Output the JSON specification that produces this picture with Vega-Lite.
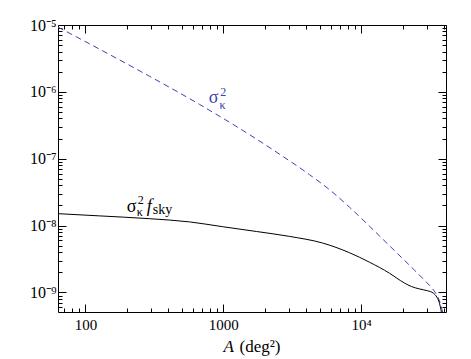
{
  "$schema": "https://vega.github.io/schema/vega-lite/v6.json",
  "width": 388,
  "height": 287,
  "autosize": "none",
  "padding": {"left": 58, "top": 25, "right": 25, "bottom": 47},
  "background": "white",
  "config": {
    "view": {"stroke": "black", "strokeWidth": 1},
    "font": "Liberation Serif",
    "axis": {"domain": false, "grid": false, "tickColor": "black", "tickWidth": 1, "labelColor": "black", "labelFont": "Liberation Serif", "titleFont": "Liberation Serif", "titleColor": "black", "titleFontWeight": "normal"}
  },
  "datasets": {
    "curves": [
      {"series": "noise", "A": 63.2, "v": 9.3e-6},
      {"series": "noise", "A": 126.3, "v": 4.357e-6},
      {"series": "noise", "A": 291.3, "v": 1.712e-6},
      {"series": "noise", "A": 671.2, "v": 6.501e-7},
      {"series": "noise", "A": 1547.5, "v": 2.295e-7},
      {"series": "noise", "A": 2554.5, "v": 1.172e-7},
      {"series": "noise", "A": 4216.5, "v": 5.78e-8},
      {"series": "noise", "A": 5889, "v": 3.446e-8},
      {"series": "noise", "A": 8226, "v": 1.886e-8},
      {"series": "noise", "A": 11490, "v": 9.795e-9},
      {"series": "noise", "A": 16043, "v": 5.001e-9},
      {"series": "noise", "A": 22410, "v": 2.553e-9},
      {"series": "noise", "A": 28790, "v": 1.523e-9},
      {"series": "noise", "A": 32910, "v": 1.136e-9},
      {"series": "noise", "A": 35460, "v": 9.08e-10},
      {"series": "noise", "A": 37290, "v": 7.133e-10},
      {"series": "noise", "A": 38560, "v": 5.605e-10},
      {"series": "noise", "A": 39540, "v": 4.479e-10},
      {"series": "fsky", "A": 63.17, "v": 1.508e-8},
      {"series": "fsky", "A": 126.3, "v": 1.397e-8},
      {"series": "fsky", "A": 291.3, "v": 1.268e-8},
      {"series": "fsky", "A": 568.3, "v": 1.136e-8},
      {"series": "fsky", "A": 985.9, "v": 9.628e-9},
      {"series": "fsky", "A": 1739.9, "v": 8.16e-9},
      {"series": "fsky", "A": 3019, "v": 6.893e-9},
      {"series": "fsky", "A": 5240, "v": 5.49e-9},
      {"series": "fsky", "A": 8226, "v": 3.929e-9},
      {"series": "fsky", "A": 11490, "v": 2.832e-9},
      {"series": "fsky", "A": 16043, "v": 1.939e-9},
      {"series": "fsky", "A": 17945, "v": 1.66e-9},
      {"series": "fsky", "A": 20610, "v": 1.383e-9},
      {"series": "fsky", "A": 23170, "v": 1.226e-9},
      {"series": "fsky", "A": 26480, "v": 1.128e-9},
      {"series": "fsky", "A": 30270, "v": 1.06e-9},
      {"series": "fsky", "A": 33460, "v": 9.728e-10},
      {"series": "fsky", "A": 35460, "v": 8.476e-10},
      {"series": "fsky", "A": 36990, "v": 6.893e-10},
      {"series": "fsky", "A": 37920, "v": 5.509e-10},
      {"series": "fsky", "A": 38560, "v": 4.479e-10}
    ],
    "labels": [
      {"label": "noise", "A": 784.6, "v": 6.795e-7},
      {"label": "fsky", "A": 199.4, "v": 1.614e-8}
    ]
  },
  "resolve": {"axis": {"x": "independent", "y": "independent"}},
  "layer": [
    {
      "data": {"name": "curves"},
      "transform": [{"filter": "datum.series === 'noise'"}],
      "mark": {"type": "line", "color": "#4040b0", "strokeWidth": 1, "strokeDash": [6, 4], "interpolate": "monotone", "clip": true},
      "encoding": {
        "x": {"field": "A", "type": "quantitative", "scale": {"type": "log", "domain": [63.2, 41253], "nice": false},
          "axis": {"orient": "bottom", "values": [100, 1000, 10000], "labelExpr": "datum.value > 5000 ? '10⁴' : format(datum.value, 'd')", "ticks": false, "labelFont": "Liberation Serif", "labelFontSize": 15, "labelPadding": 5, "labelFlush": false, "labelOverlap": false, "title": "A", "titleFontStyle": "italic", "titleFontSize": 17, "titleX": 165, "titleY": 39, "titleAlign": "left", "titleBaseline": "alphabetic"}},
        "y": {"field": "v", "type": "quantitative", "scale": {"type": "log", "domain": [5.1e-10, 1e-5], "nice": false},
          "axis": {"orient": "left", "values": [1e-9, 1e-8, 1e-7, 1e-6, 1e-5], "labelExpr": "'10⁻' + ['⁰','¹','²','³','⁴','⁵','⁶','⁷','⁸','⁹'][round(-log(datum.value)/LN10)]", "ticks": false, "labelFont": "Liberation Serif", "labelFontSize": 16, "labelPadding": 2, "labelFlush": false, "labelOverlap": false, "labelBound": false, "title": null}}
      }
    },
    {
      "data": {"name": "curves"},
      "transform": [{"filter": "datum.series === 'fsky'"}],
      "mark": {"type": "line", "color": "black", "strokeWidth": 1, "interpolate": "monotone", "clip": true},
      "encoding": {
        "x": {"field": "A", "type": "quantitative",
          "axis": {"orient": "bottom", "values": [100, 1000, 10000], "labels": false, "tickSize": -8, "title": "(deg²)", "titleFontSize": 17, "titleX": 181, "titleY": 39, "titleAlign": "left", "titleBaseline": "alphabetic"}},
        "y": {"field": "v", "type": "quantitative",
          "axis": {"orient": "left", "values": [1e-9, 1e-8, 1e-7, 1e-6, 1e-5], "labels": false, "tickSize": -8, "title": null}}
      }
    },
    {
      "data": {"name": "labels"},
      "transform": [{"filter": "datum.label === 'noise'"}],
      "mark": {"type": "text", "text": "σ", "align": "left", "baseline": "alphabetic", "font": "Liberation Serif", "fontSize": 18, "color": "#4040b0"},
      "encoding": {
        "x": {"field": "A", "type": "quantitative",
          "axis": {"orient": "bottom", "values": [70, 80, 90, 200, 300, 400, 500, 600, 700, 800, 900, 2000, 3000, 4000, 5000, 6000, 7000, 8000, 9000, 20000, 30000, 40000], "labels": false, "tickSize": -4, "title": null}},
        "y": {"field": "v", "type": "quantitative",
          "axis": {"orient": "left", "values": [6e-10, 7e-10, 8e-10, 9e-10, 2e-9, 3e-9, 4e-9, 5e-9, 6e-9, 7e-9, 8e-9, 9e-9, 2e-8, 3e-8, 4e-8, 5e-8, 6e-8, 7e-8, 8e-8, 9e-8, 2e-7, 3e-7, 4e-7, 5e-7, 6e-7, 7e-7, 8e-7, 9e-7, 2e-6, 3e-6, 4e-6, 5e-6, 6e-6, 7e-6, 8e-6, 9e-6], "labels": false, "tickSize": -4, "title": null}}
      }
    },
    {
      "data": {"name": "labels"},
      "transform": [{"filter": "datum.label === 'noise'"}],
      "mark": {"type": "text", "text": "κ", "align": "left", "baseline": "alphabetic", "font": "Liberation Serif", "fontSize": 12, "dx": 10.7, "dy": 5.8, "color": "#4040b0"},
      "encoding": {
        "x": {"field": "A", "type": "quantitative",
          "axis": {"orient": "top", "values": [100, 1000, 10000], "labels": false, "tickSize": -8, "title": null}},
        "y": {"field": "v", "type": "quantitative",
          "axis": {"orient": "right", "values": [1e-9, 1e-8, 1e-7, 1e-6, 1e-5], "labels": false, "tickSize": -8, "title": null}}
      }
    },
    {
      "data": {"name": "labels"},
      "transform": [{"filter": "datum.label === 'noise'"}],
      "mark": {"type": "text", "text": "2", "align": "left", "baseline": "alphabetic", "font": "Liberation Serif", "fontSize": 12, "dx": 11.4, "dy": -6.8, "color": "#4040b0"},
      "encoding": {
        "x": {"field": "A", "type": "quantitative",
          "axis": {"orient": "top", "values": [70, 80, 90, 200, 300, 400, 500, 600, 700, 800, 900, 2000, 3000, 4000, 5000, 6000, 7000, 8000, 9000, 20000, 30000, 40000], "labels": false, "tickSize": -4, "title": null}},
        "y": {"field": "v", "type": "quantitative",
          "axis": {"orient": "right", "values": [6e-10, 7e-10, 8e-10, 9e-10, 2e-9, 3e-9, 4e-9, 5e-9, 6e-9, 7e-9, 8e-9, 9e-9, 2e-8, 3e-8, 4e-8, 5e-8, 6e-8, 7e-8, 8e-8, 9e-8, 2e-7, 3e-7, 4e-7, 5e-7, 6e-7, 7e-7, 8e-7, 9e-7, 2e-6, 3e-6, 4e-6, 5e-6, 6e-6, 7e-6, 8e-6, 9e-6], "labels": false, "tickSize": -4, "title": null}}
      }
    },
    {
      "data": {"name": "labels"},
      "transform": [{"filter": "datum.label === 'fsky'"}],
      "mark": {"type": "text", "text": "σ", "align": "left", "baseline": "alphabetic", "font": "Liberation Serif", "fontSize": 18, "color": "black"},
      "encoding": {
        "x": {"field": "A", "type": "quantitative", "axis": null},
        "y": {"field": "v", "type": "quantitative", "axis": null}
      }
    },
    {
      "data": {"name": "labels"},
      "transform": [{"filter": "datum.label === 'fsky'"}],
      "mark": {"type": "text", "text": "κ", "align": "left", "baseline": "alphabetic", "font": "Liberation Serif", "fontSize": 12, "dx": 10, "dy": 4.5, "color": "black"},
      "encoding": {
        "x": {"field": "A", "type": "quantitative", "axis": null},
        "y": {"field": "v", "type": "quantitative", "axis": null}
      }
    },
    {
      "data": {"name": "labels"},
      "transform": [{"filter": "datum.label === 'fsky'"}],
      "mark": {"type": "text", "text": "2", "align": "left", "baseline": "alphabetic", "font": "Liberation Serif", "fontSize": 12, "dx": 11, "dy": -7.3, "color": "black"},
      "encoding": {
        "x": {"field": "A", "type": "quantitative", "axis": null},
        "y": {"field": "v", "type": "quantitative", "axis": null}
      }
    },
    {
      "data": {"name": "labels"},
      "transform": [{"filter": "datum.label === 'fsky'"}],
      "mark": {"type": "text", "text": "f", "align": "left", "baseline": "alphabetic", "font": "Liberation Serif", "fontSize": 18, "fontStyle": "italic", "dx": 20, "dy": 0, "color": "black"},
      "encoding": {
        "x": {"field": "A", "type": "quantitative", "axis": null},
        "y": {"field": "v", "type": "quantitative", "axis": null}
      }
    },
    {
      "data": {"name": "labels"},
      "transform": [{"filter": "datum.label === 'fsky'"}],
      "mark": {"type": "text", "text": "sky", "align": "left", "baseline": "alphabetic", "font": "Liberation Serif", "fontSize": 14, "dx": 26, "dy": 2.5, "color": "black"},
      "encoding": {
        "x": {"field": "A", "type": "quantitative", "axis": null},
        "y": {"field": "v", "type": "quantitative", "axis": null}
      }
    }
  ]
}
